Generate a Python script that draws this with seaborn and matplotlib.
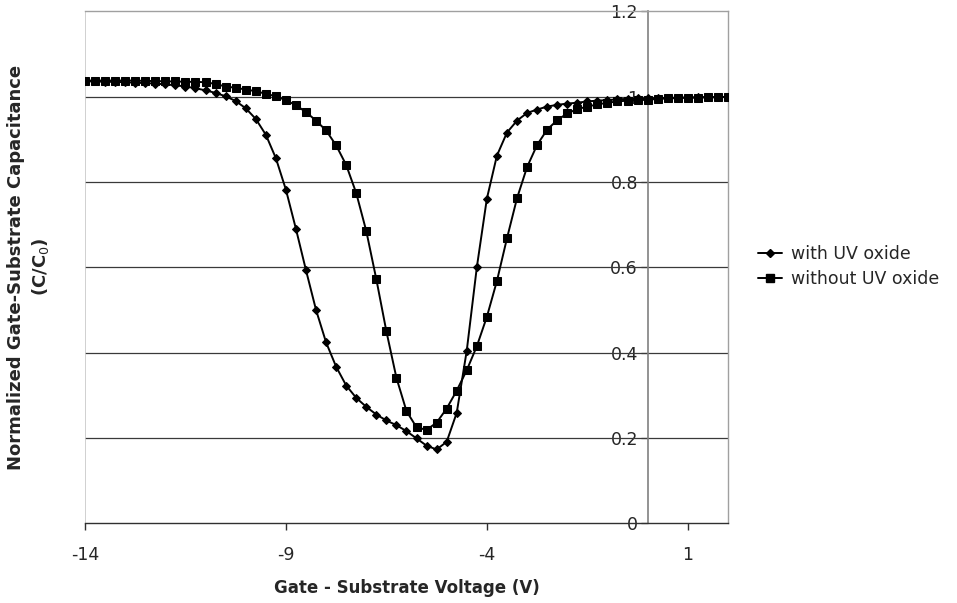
import matplotlib
matplotlib.use("Agg")
import matplotlib.pyplot as plt
import seaborn as sns
import pandas as pd
from matplotlib.lines import Line2D

voltage = [-14.0, -13.75, -13.5, -13.25, -13.0, -12.75, -12.5, -12.25, -12.0, -11.75,
           -11.5, -11.25, -11.0, -10.75, -10.5, -10.25, -10.0, -9.75, -9.5, -9.25,
           -9.0, -8.75, -8.5, -8.25, -8.0, -7.75, -7.5, -7.25, -7.0, -6.75,
           -6.5, -6.25, -6.0, -5.75, -5.5, -5.25, -5.0, -4.75, -4.5, -4.25,
           -4.0, -3.75, -3.5, -3.25, -3.0, -2.75, -2.5, -2.25, -2.0, -1.75,
           -1.5, -1.25, -1.0, -0.75, -0.5, -0.25, 0.0, 0.25, 0.5, 0.75,
           1.0, 1.25, 1.5, 1.75, 2.0]

with_uv = [1.036, 1.036, 1.035, 1.035, 1.034, 1.033, 1.032, 1.031, 1.029, 1.027,
           1.024, 1.020, 1.015, 1.009, 1.001, 0.990, 0.973, 0.948, 0.911, 0.856,
           0.782, 0.690, 0.593, 0.500, 0.424, 0.367, 0.323, 0.294, 0.273, 0.255,
           0.241, 0.230, 0.216, 0.199, 0.182, 0.173, 0.191, 0.259, 0.405, 0.600,
           0.761, 0.862, 0.916, 0.944, 0.962, 0.970, 0.977, 0.981, 0.984, 0.986,
           0.989, 0.991, 0.992, 0.994, 0.995, 0.996, 0.996, 0.997, 0.997, 0.998,
           0.998, 0.999, 0.999, 0.999, 1.000]

without_uv = [1.038, 1.038, 1.038, 1.038, 1.038, 1.038, 1.037, 1.037, 1.036, 1.036,
              1.035, 1.035, 1.034, 1.030, 1.024, 1.021, 1.017, 1.013, 1.007, 1.001,
              0.992, 0.980, 0.964, 0.944, 0.921, 0.886, 0.840, 0.774, 0.685, 0.572,
              0.450, 0.341, 0.263, 0.225, 0.219, 0.236, 0.269, 0.311, 0.359, 0.415,
              0.484, 0.568, 0.668, 0.762, 0.835, 0.887, 0.923, 0.945, 0.961, 0.971,
              0.977, 0.982, 0.986, 0.989, 0.991, 0.992, 0.993, 0.995, 0.996, 0.997,
              0.998, 0.998, 0.999, 0.999, 1.000]

series_names = ["with UV oxide", "without UV oxide"]
x_ticks = [-14, -9, -4, 1]
y_ticks = [0, 0.2, 0.4, 0.6, 0.8, 1.0, 1.2]
y_tick_labels = ["0", "0.2", "0.4", "0.6", "0.8", "1", "1.2"]

df = pd.concat([
    pd.DataFrame({"V": voltage, "C": with_uv, "series": series_names[0]}),
    pd.DataFrame({"V": voltage, "C": without_uv, "series": series_names[1]}),
])

sns.set_style("white")
plt.rcParams["font.family"] = ["DejaVu Sans"]

fig = plt.figure(figsize=(9.57, 6.03), dpi=100)
ax = fig.add_axes([0.0888, 0.1322, 0.6719, 0.8488])

sns.lineplot(data=df, x="V", y="C", style="series", style_order=series_names,
             markers={series_names[0]: "D", series_names[1]: "s"},
             dashes=False, color="black", linewidth=1.4, ax=ax,
             markeredgecolor="black", zorder=3, legend=False)
for line, ms in zip(ax.lines, [3.8, 5.6]):
    line.set_markersize(ms)

ax.set_xlim(-14, 2)
ax.set_ylim(0, 1.2)

# gridlines
for y in y_ticks[1:-1]:
    ax.axhline(y, color="#3a3a3a", lw=0.9, zorder=1)

# plot area border and vertical axis at x = 0
ax.axvline(-14, color="#c8c8c8", lw=1.2, zorder=1)
ax.spines["left"].set_position(("data", 0))
ax.spines["left"].set_color("#808080")
ax.spines["left"].set_linewidth(1.2)
ax.spines["top"].set_color("#a0a0a0")
ax.spines["top"].set_linewidth(1.0)
ax.spines["right"].set_color("#a0a0a0")
ax.spines["right"].set_linewidth(1.0)
ax.spines["bottom"].set_color("#303030")
ax.spines["bottom"].set_linewidth(1.0)

ax.set_xticks(x_ticks)
ax.set_xticklabels([str(t) for t in x_ticks])
ax.set_yticks(y_ticks)
ax.set_yticklabels(y_tick_labels)
ax.tick_params(axis="x", direction="out", length=5, width=1, color="#303030",
               labelsize=12.5, pad=11, bottom=True)
ax.tick_params(axis="y", direction="out", length=5, width=1, color="#808080",
               labelsize=12.5, pad=2, left=True)

ax.set_xlabel("Gate - Substrate Voltage (V)", fontsize=12, fontweight="bold", labelpad=11)
ax.set_ylabel("")
fig.text(0.0305, 0.557, "Normalized Gate-Substrate Capacitance\n(C/C$_0$)",
         rotation=90, ha="center", va="center", fontsize=13, fontweight="bold",
         linespacing=1.35, multialignment="center")

handles = [Line2D([], [], color="black", marker="D", markersize=3.8, lw=1.4),
           Line2D([], [], color="black", marker="s", markersize=5.6, lw=1.4)]
fig.legend(handles, series_names, loc="upper left", bbox_to_anchor=(0.785, 0.605),
           frameon=False, fontsize=12.5, handlelength=1.4, handletextpad=0.5,
           labelspacing=0.4, borderaxespad=0)

fig.savefig("out.png", dpi=100)
